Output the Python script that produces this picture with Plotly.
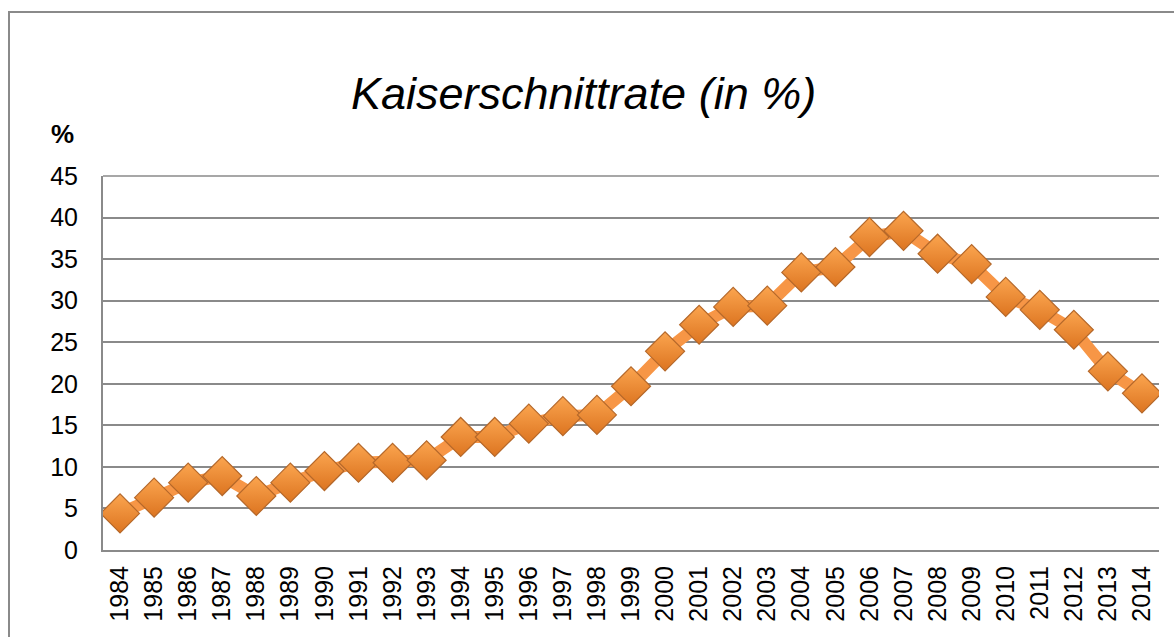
import plotly.graph_objects as go

years = [str(y) for y in range(1984, 2015)]
rates = [4.4, 6.3, 8.1, 8.9, 6.5, 8.1, 9.5, 10.5, 10.5, 10.8, 13.6, 13.6, 15.2,
         16.1, 16.25, 19.7, 23.9, 27.1, 29.25, 29.4, 33.4, 34.05, 37.65, 38.4,
         35.65, 34.4, 30.45, 28.9, 26.5, 21.5, 18.85]
title_text = "Kaiserschnittrate (in %)"
y_unit = "%"

W, H = 1174, 637
L, R, T, B = 103, 1159, 176, 550


def px(xp):
    return (xp - L) / (R - L)


def py(yp):
    return (B - yp) / (B - T)


fig = go.Figure()
fig.add_trace(go.Scatter(
    x=years, y=rates, mode="lines",
    line=dict(color="#F79646", width=12),
    hoverinfo="skip", showlegend=False,
))
fig.add_trace(go.Scatter(
    x=years, y=rates, mode="markers",
    marker=dict(symbol="diamond", size=30, color="#FBA54F",
                gradient=dict(type="vertical", color="#DC7420"),
                line=dict(color="#B5682A", width=1.2)),
    showlegend=False,
))

font = "Arial, Liberation Sans, sans-serif"
fig.update_layout(
    width=W, height=H,
    margin=dict(l=L, r=W - R, t=T, b=H - B),
    paper_bgcolor="white", plot_bgcolor="white",
    font=dict(family=font, color="black", size=25),
    xaxis=dict(type="category", range=[-0.5, len(years) - 0.5],
               showgrid=False, showline=True, linecolor="#8A8A8A", linewidth=2,
               tickangle=-90, ticks="", ticklabelstandoff=4,
               tickfont=dict(size=25), zeroline=False),
    yaxis=dict(range=[0, 45], dtick=5, tick0=0,
               showgrid=True, gridcolor="#8A8A8A", gridwidth=1.5,
               showline=True, linecolor="#8A8A8A", linewidth=2,
               ticks="", ticklabelstandoff=18,
               tickfont=dict(size=25), zeroline=False),
    annotations=[
        dict(text="<i>" + title_text + "</i>", x=px(583), y=py(93),
             xref="paper", yref="paper", xanchor="center", yanchor="middle",
             showarrow=False, font=dict(size=45, family=font)),
        dict(text="<b>" + y_unit + "</b>", x=px(62), y=py(134),
             xref="paper", yref="paper", xanchor="center", yanchor="middle",
             showarrow=False, font=dict(size=26, family=font)),
    ],
    shapes=[
        dict(type="line", xref="paper", yref="paper", x0=0, x1=1, y0=1, y1=1,
             line=dict(color="#8A8A8A", width=1.5), layer="below"),
        dict(type="path", xref="paper", yref="paper",
             path=f"M {px(1180)} {py(12)} L {px(9)} {py(12)} L {px(9)} {py(650)}",
             line=dict(color="#8A8A8A", width=2)),
    ],
)

fig.write_html("out.html", config={"displayModeBar": False},
               post_script="document.body.style.margin='0px';")
